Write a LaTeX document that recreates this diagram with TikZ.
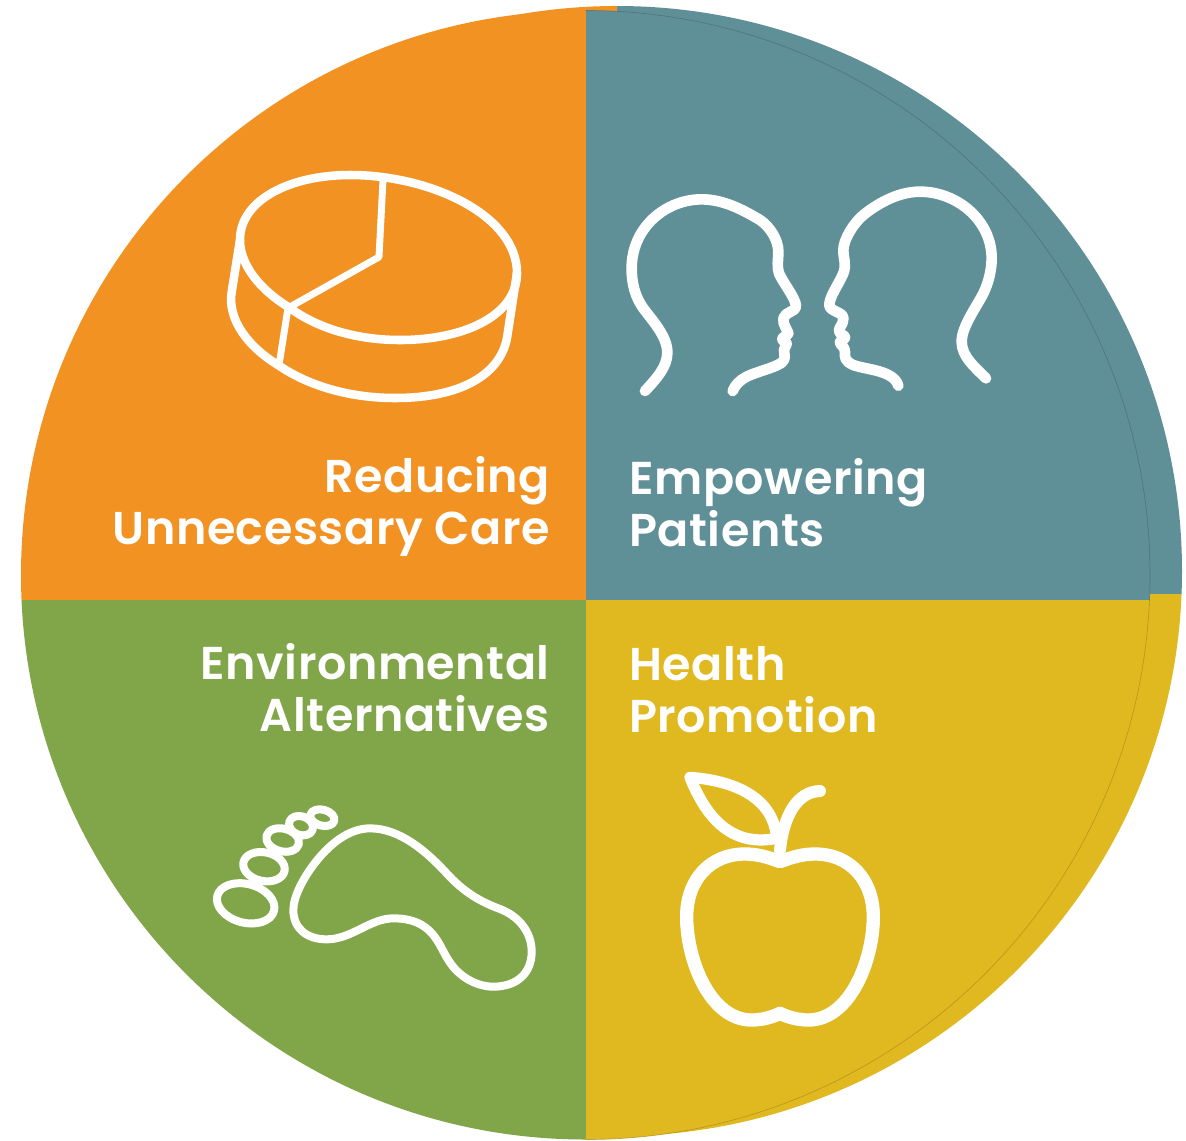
\documentclass[tikz,border=0pt]{standalone}
\usepackage{fontspec}
\setmainfont{Poppins}[UprightFont=* SemiBold,LetterSpace=1.2]
\definecolor{cOrange}{HTML}{F29222}
\definecolor{cTeal}{HTML}{5F9098}
\definecolor{cGreen}{HTML}{81A549}
\definecolor{cYellow}{HTML}{E0B921}
\tikzset{
  lab/.style={text=white,inner sep=0pt,font=\fontsize{34.5}{39}\selectfont},
  labr/.style={lab,align=right,anchor=base east},
  labl/.style={lab,align=left,anchor=base west},
  icon/.style={draw=white,fill=none,line cap=round,line join=round},
}
\begin{document}
\begin{tikzpicture}[x=0.75pt,y=-0.75pt]
\useasboundingbox (0,0) rectangle (1186,1140);
% offset back disc
\begin{scope}
  \clip (617,571) circle [radius=565];
  \fill[cOrange] (0,0) rectangle (617,594);
  \fill[cTeal] (617,0) rectangle (1186,594);
  \fill[cYellow] (400,594) rectangle (1186,1140);
\end{scope}
% main disc
\begin{scope}
  \clip (585.5,575) circle [radius=564.5];
  \fill[cOrange] (0,0) rectangle (585.5,600);
  \fill[cTeal] (585.5,0) rectangle (1186,600);
  \fill[cGreen] (0,600) rectangle (585.5,1140);
  \fill[cYellow] (585.5,600) rectangle (1186,1140);
\end{scope}
% hairlines of the main disc edge
\begin{scope}
  \clip (585.5,0) rectangle (1186,600);
  \draw[cTeal!75!black,line width=0.5pt,opacity=.7] (585.5,575) circle [radius=564.5];
\end{scope}
\begin{scope}
  \clip (585.5,600) rectangle (1186,1140);
  \draw[cYellow!75!black,line width=0.5pt,opacity=.7] (585.5,575) circle [radius=564.5];
\end{scope}
% labels
\node[labr] (t1) at (550,492) {Reducing};
\node[labr] (t1b) at (550,544) {Unnecessary Care};
\node[labl] (t2) at (629,494) {Empowering};
\node[labl] (t2b) at (629,546) {Patients};
\node[labr] (t3) at (550,679) {Environmental};
\node[labr] (t3b) at (550,731) {Alternatives};
\node[labl] (t4) at (629,680) {Health};
\node[labl] (t4b) at (629,732) {Promotion};
% pie
\begin{scope}[icon]
  \draw[line width=6.4pt] (240,240) .. controls (240,200) and (290,175) .. (350,175) .. controls (430,175) and (517,215) .. (517,273) .. controls (517,315) and (465,340) .. (400,340) .. controls (360,340) and (320,330) .. (290,308) .. controls (260,290) and (240,265) .. (240,240) -- cycle;
  \draw[line width=5.2pt] (383,180) -- (379,257) -- (288,308);
  \draw[line width=6.4pt] (240,240) -- (232,290) .. controls (226,320) and (250,348) .. (278,365) .. controls (310,387) and (352,398) .. (395,398) .. controls (460,398) and (500,375) .. (507,338) -- (517,273);
  \draw[line width=5.2pt] (288,308) -- (279,365);
\end{scope}
% heads
\begin{scope}[icon,shift={(610,170)},x=0.25pt,y=-0.25pt,line width=8pt]
  \draw (105,663) .. controls (140,625) and (172,590) .. (172,548) .. controls (172,500) and (130,455) .. (100,415) .. controls (75,380) and (65,340) .. (65,295) .. controls (65,170) and (170,88) .. (275,88) .. controls (340,88) and (400,120) .. (450,150) .. controls (480,170) and (505,210) .. (505,245) .. controls (505,270) and (500,290) .. (507,310) .. controls (520,340) and (558,385) .. (558,410) .. controls (558,425) and (525,425) .. (520,445) .. controls (518,465) and (533,480) .. (535,490) .. controls (530,500) and (517,500) .. (517,507) .. controls (517,515) and (530,515) .. (530,522) .. controls (530,530) and (522,530) .. (522,540) .. controls (522,555) and (530,565) .. (515,578) .. controls (490,595) and (440,605) .. (410,620) .. controls (390,630) and (375,645) .. (368,663);
  \draw (1128,625) .. controls (1095,592) and (1055,560) .. (1055,515) .. controls (1055,470) and (1100,410) .. (1120,370) .. controls (1135,340) and (1145,300) .. (1145,265) .. controls (1145,150) and (1040,65) .. (930,65) .. controls (870,65) and (810,95) .. (760,135) .. controls (730,160) and (700,210) .. (700,240) .. controls (700,265) and (710,285) .. (700,310) .. controls (685,345) and (658,380) .. (658,405) .. controls (658,425) and (700,425) .. (700,445) .. controls (700,465) and (687,470) .. (687,483) .. controls (690,495) and (705,495) .. (705,502) .. controls (705,510) and (690,510) .. (690,517) .. controls (690,525) and (705,530) .. (705,545) .. controls (703,560) and (705,575) .. (730,585) .. controls (770,600) and (850,600) .. (865,647);
\end{scope}
% foot
\begin{scope}[icon,shift={(200,790)},x=0.25pt,y=-0.25pt,line width=6pt]
  \draw (280,360) .. controls (280,320) and (310,265) .. (340,225) .. controls (385,165) and (445,115) .. (510,115) .. controls (600,115) and (680,185) .. (740,250) .. controls (790,305) and (840,335) .. (900,357) .. controls (955,378) and (995,425) .. (995,485) .. controls (995,550) and (950,590) .. (880,590) .. controls (830,590) and (775,560) .. (745,510) .. controls (715,465) and (700,385) .. (580,385) .. controls (510,385) and (455,448) .. (380,448) .. controls (320,448) and (280,415) .. (280,360) -- cycle;
  \draw[shift={(137,340)},rotate=-15] (0,0) ellipse [x radius=88,y radius=58];
  \draw[shift={(192,230)},rotate=-12] (0,0) ellipse [x radius=63,y radius=43];
  \draw[shift={(248,150)},rotate=-15] (0,0) ellipse [x radius=50,y radius=34];
  \draw[shift={(303,107)},rotate=-20] (0,0) ellipse [x radius=37,y radius=28];
  \draw[shift={(367,83)},rotate=-15] (0,0) ellipse [x radius=37,y radius=24];
\end{scope}
% apple
\begin{scope}[icon,shift={(660,760)},x=0.25pt,y=-0.25pt]
  \draw[line width=10pt] (360,305) .. controls (400,290) and (430,282) .. (465,282) .. controls (570,282) and (640,360) .. (640,470) .. controls (640,600) and (570,780) .. (445,780) .. controls (415,780) and (385,772) .. (360,760) .. controls (335,772) and (305,780) .. (275,780) .. controls (150,780) and (80,600) .. (80,470) .. controls (80,360) and (150,282) .. (255,282) .. controls (290,282) and (320,290) .. (360,305) -- cycle;
  \draw[line width=8.4pt] (90,52) .. controls (200,60) and (340,100) .. (350,235) .. controls (200,265) and (130,150) .. (90,52) -- cycle;
  \draw[line width=9pt] (360,270) .. controls (370,170) and (410,95) .. (480,93);
\end{scope}
\end{tikzpicture}
\end{document}
